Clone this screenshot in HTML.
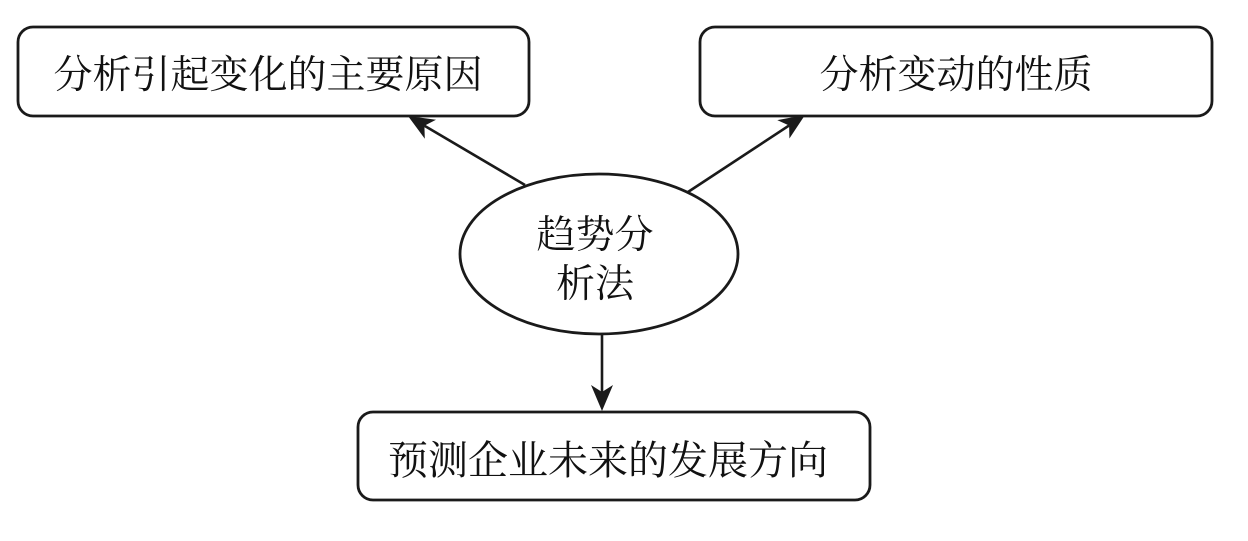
<!DOCTYPE html>
<html>
<head>
<meta charset="utf-8">
<style>
  html,body{margin:0;padding:0;background:#fff;}
  svg{display:block;}
  text{font-family:"Liberation Serif","Noto Serif CJK SC","Noto Sans CJK SC",serif;fill:#111;}
</style>
</head>
<body>
<svg width="1248" height="541" viewBox="0 0 1248 541" xmlns="http://www.w3.org/2000/svg">
  <rect x="0" y="0" width="1248" height="541" fill="#fff"/>
  <g fill="none" stroke="#1a1a1a" stroke-width="2.8">
    <rect x="18" y="27" width="511" height="89" rx="15" ry="15"/>
    <rect x="700" y="27" width="512" height="89" rx="15" ry="15"/>
    <rect x="358" y="412" width="512" height="88" rx="15" ry="15"/>
    <ellipse cx="599" cy="254" rx="139" ry="80"/>
  </g>
  <g stroke="#1a1a1a" stroke-width="2.6" fill="none">
    <line x1="525" y1="185" x2="424.4" y2="125.7"/>
    <line x1="688" y1="192" x2="789.1" y2="125.5"/>
    <line x1="602" y1="334" x2="602" y2="392"/>
  </g>
  <g fill="#1a1a1a" stroke="none">
    <polygon points="408,116 436,119.7 424.4,125.7 424.8,138.7"/>
    <polygon points="805,115 777.3,120.1 789.1,125.5 789.4,138.5"/>
    <polygon points="602,411 591,385 602,392 613,385"/>
  </g>
  <text x="268" y="88" font-size="39" text-anchor="middle">分析引起变化的主要原因</text>
  <text x="956" y="88" font-size="39" text-anchor="middle">分析变动的性质</text>
  <text x="595" y="248" font-size="39" text-anchor="middle">趋势分</text>
  <text x="595" y="297" font-size="39" text-anchor="middle">析法</text>
  <text x="608" y="474" font-size="40" text-anchor="middle">预测企业未来的发展方向</text>
</svg>
</body>
</html>
